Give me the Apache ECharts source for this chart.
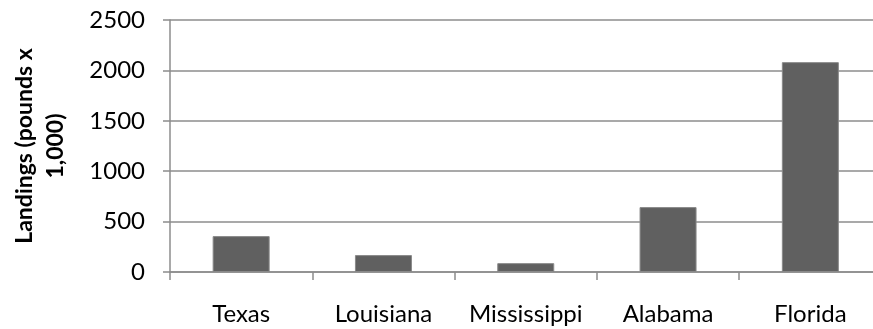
<!DOCTYPE html>
<html>
<head>
<meta charset="utf-8">
<script src="https://cdn.jsdelivr.net/npm/echarts@6/dist/echarts.min.js"></script>
<style>
  html, body { margin: 0; padding: 0; background: #fff; }
  #chart { width: 873px; height: 329px; }
</style>
</head>
<body>
<div id="chart"></div>
<script>
// Landings by Gulf state, in thousands of pounds
const states = ['Texas', 'Louisiana', 'Mississippi', 'Alabama', 'Florida'];
const landings = [356, 168, 88, 644, 2082];
const yTicks = [0, 500, 1000, 1500, 2000, 2500];

const FONT = 'Lato';
const chart = echarts.init(document.getElementById('chart'), null, { renderer: 'canvas' });

chart.setOption({
  animation: false,
  backgroundColor: '#ffffff',
  // plot runs a little past the right edge of the canvas
  grid: { left: 170, top: 20, width: 711.5, height: 252, containLabel: false, outerBoundsMode: 'none' },
  xAxis: {
    type: 'category',
    data: states,
    boundaryGap: true,
    axisLine: { show: true, lineStyle: { color: '#8c8c8c', width: 1.5 } },
    axisTick: { show: true, length: 8, alignWithLabel: false, lineStyle: { color: '#8c8c8c', width: 1.5 } },
    axisLabel: { color: '#000', fontFamily: FONT, fontSize: 24, margin: 30, interval: 0 }
  },
  yAxis: {
    type: 'value',
    min: yTicks[0],
    max: yTicks[yTicks.length - 1],
    interval: 500,
    name: 'Landings (pounds x\n1,000)',
    nameLocation: 'middle',
    nameGap: 99,
    nameRotate: 90,
    nameTextStyle: { color: '#000', fontFamily: FONT, fontSize: 23, fontWeight: 'bold', lineHeight: 31, align: 'center' },
    axisLine: { show: true, lineStyle: { color: '#8c8c8c', width: 1.5 } },
    axisTick: { show: true, inside: false, length: 7, lineStyle: { color: '#8c8c8c', width: 1.5 } },
    axisLabel: { color: '#000', fontFamily: FONT, fontSize: 24, margin: 25, formatter: v => String(v) },
    splitLine: { show: true, lineStyle: { color: '#8c8c8c', width: 1.5 } }
  },
  series: [{
    type: 'bar',
    data: landings,
    barWidth: 57,
    itemStyle: { color: '#606060', borderColor: '#8a8a8a', borderWidth: 1 }
  }]
});
</script>
</body>
</html>
